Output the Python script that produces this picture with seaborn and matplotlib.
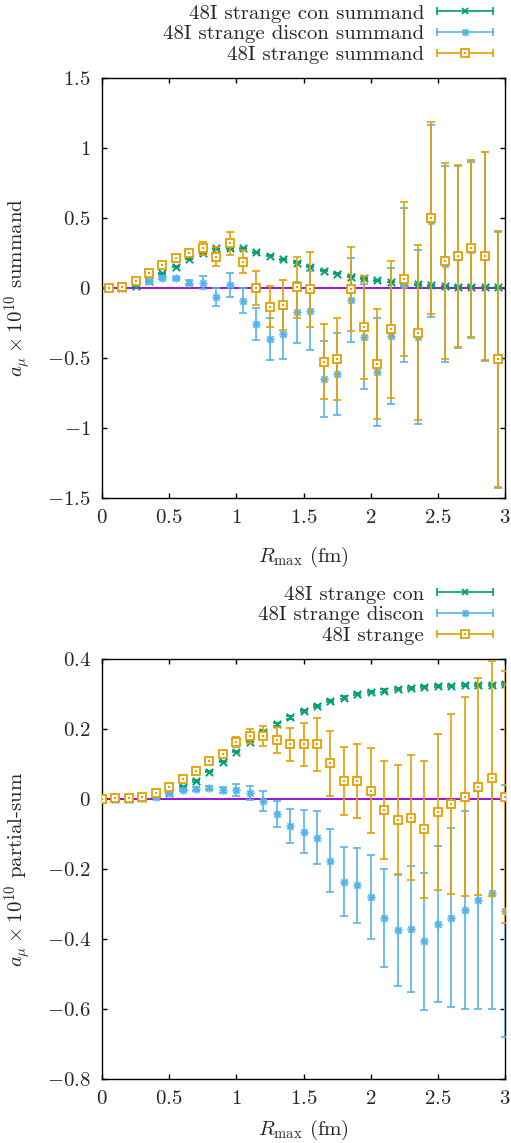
import matplotlib
matplotlib.use("Agg")
import matplotlib.pyplot as plt
import seaborn as sns
import pandas as pd
from matplotlib.path import Path
from matplotlib.lines import Line2D
from matplotlib.legend_handler import HandlerBase
from matplotlib.ticker import FixedLocator, FuncFormatter

# ---------------- data ----------------
r_sum = [0.05, 0.15, 0.25, 0.35, 0.45, 0.55, 0.65, 0.75, 0.85, 0.95,
         1.05, 1.15, 1.25, 1.35, 1.45, 1.55, 1.65, 1.75, 1.85, 1.95,
         2.05, 2.15, 2.25, 2.35, 2.45, 2.55, 2.65, 2.75, 2.85, 2.95]
con_sum = [0.0, 0.002, 0.014, 0.052, 0.105, 0.152, 0.207, 0.248, 0.283, 0.283,
           0.283, 0.255, 0.231, 0.205, 0.181, 0.152, 0.124, 0.102, 0.081, 0.069,
           0.055, 0.043, 0.033, 0.026, 0.019, 0.014, 0.010, 0.010, 0.007, 0.005]
con_sum_err = [0.0, 0.001, 0.001, 0.001, 0.002, 0.002, 0.002, 0.003, 0.003, 0.003,
               0.003, 0.003, 0.003, 0.003, 0.003, 0.003, 0.003, 0.003, 0.003, 0.003,
               0.003, 0.003, 0.003, 0.003, 0.003, 0.003, 0.003, 0.003, 0.003, 0.003]
disc_sum = [0.0, 0.0, 0.040, 0.052, 0.074, 0.069, 0.038, 0.038, -0.062, 0.021,
            -0.091, -0.257, -0.367, -0.329, -0.174, -0.162, -0.652, -0.614, -0.086, -0.348,
            -0.598, -0.343, 0.021, -0.348, 0.479, 0.171, 0.221, 0.273, 0.222, -0.512]
disc_sum_err = [0.002, 0.003, 0.005, 0.008, 0.010, 0.012, 0.020, 0.048, 0.063, 0.086,
                0.089, 0.115, 0.150, 0.180, 0.218, 0.280, 0.270, 0.290, 0.300, 0.375,
                0.386, 0.486, 0.550, 0.620, 0.686, 0.700, 0.650, 0.630, 0.746, 0.915]
tot_sum = [0.0, 0.005, 0.052, 0.110, 0.164, 0.217, 0.252, 0.283, 0.224, 0.319,
           0.188, 0.0, -0.133, -0.121, 0.005, -0.010, -0.526, -0.507, -0.007, -0.281,
           -0.543, -0.295, 0.062, -0.319, 0.502, 0.195, 0.231, 0.283, 0.229, -0.507]
tot_sum_err = [0.002, 0.003, 0.005, 0.008, 0.010, 0.012, 0.018, 0.045, 0.070, 0.083,
               0.083, 0.120, 0.145, 0.180, 0.217, 0.270, 0.270, 0.290, 0.300, 0.370,
               0.390, 0.490, 0.550, 0.625, 0.687, 0.700, 0.650, 0.630, 0.746, 0.915]

r_cum = [0.0, 0.1, 0.2, 0.3, 0.4, 0.5, 0.6, 0.7, 0.8, 0.9, 1.0,
         1.1, 1.2, 1.3, 1.4, 1.5, 1.6, 1.7, 1.8, 1.9, 2.0,
         2.1, 2.2, 2.3, 2.4, 2.5, 2.6, 2.7, 2.8, 2.9, 3.0]
con_cum = [0.0, 0.0, 0.0, 0.003, 0.010, 0.017, 0.035, 0.052, 0.078, 0.107, 0.135,
           0.164, 0.192, 0.213, 0.233, 0.251, 0.267, 0.280, 0.290, 0.299, 0.306,
           0.310, 0.314, 0.317, 0.320, 0.322, 0.324, 0.325, 0.326, 0.326, 0.328]
con_cum_err = [0.0, 0.0, 0.0, 0.001, 0.001, 0.001, 0.001, 0.002, 0.002, 0.002, 0.002,
               0.002, 0.003, 0.003, 0.003, 0.003, 0.003, 0.003, 0.003, 0.003, 0.003,
               0.003, 0.003, 0.003, 0.003, 0.003, 0.003, 0.003, 0.003, 0.003, 0.003]
disc_cum = [0.0, 0.0, 0.0, 0.003, 0.006, 0.016, 0.026, 0.029, 0.032, 0.026, 0.026,
            0.018, -0.006, -0.044, -0.077, -0.093, -0.110, -0.176, -0.236, -0.246, -0.281,
            -0.339, -0.374, -0.371, -0.406, -0.357, -0.339, -0.317, -0.289, -0.268, -0.319]
disc_cum_err = [0.0, 0.0, 0.001, 0.002, 0.002, 0.003, 0.004, 0.005, 0.006, 0.008, 0.017,
                0.020, 0.029, 0.037, 0.048, 0.061, 0.075, 0.090, 0.098, 0.107, 0.120,
                0.140, 0.159, 0.179, 0.196, 0.223, 0.256, 0.284, 0.312, 0.333, 0.360]
tot_cum = [0.0, 0.002, 0.002, 0.007, 0.016, 0.033, 0.056, 0.081, 0.110, 0.130, 0.163,
           0.181, 0.181, 0.169, 0.156, 0.156, 0.156, 0.102, 0.052, 0.052, 0.024,
           -0.030, -0.060, -0.053, -0.086, -0.036, -0.015, 0.007, 0.035, 0.059, 0.007]
tot_cum_err = [0.0, 0.0, 0.001, 0.002, 0.002, 0.003, 0.004, 0.005, 0.006, 0.008, 0.015,
               0.020, 0.029, 0.037, 0.048, 0.062, 0.076, 0.092, 0.098, 0.106, 0.121,
               0.140, 0.158, 0.178, 0.196, 0.223, 0.257, 0.285, 0.310, 0.335, 0.360]

x_ticks = [0, 0.5, 1, 1.5, 2, 2.5, 3]
y_ticks_top = [-1.5, -1, -0.5, 0, 0.5, 1, 1.5]
y_ticks_bot = [-0.8, -0.6, -0.4, -0.2, 0, 0.2, 0.4]

labels_top = ["48I strange con summand", "48I strange discon summand", "48I strange summand"]
labels_bot = ["48I strange con", "48I strange discon", "48I strange"]

FS = 15.0

# ---------------- style ----------------
sns.set_theme(style="ticks")
plt.rcParams.update({
    "font.family": "serif",
    "font.serif": ["cmr10"],
    "mathtext.fontset": "cm",
    "axes.formatter.use_mathtext": True,
    "font.size": FS,
    "axes.linewidth": 1.0,
    "axes.edgecolor": "black",
})

C_CON = "#009e73"
C_DIS = "#56b4e9"
C_TOT = "#e69f00"
C_ZERO = "#9400d3"

star = Path([(0, -1), (0, 1), (-1, 0), (1, 0), (-0.75, -0.75), (0.75, 0.75), (-0.75, 0.75), (0.75, -0.75)],
            [Path.MOVETO, Path.LINETO] * 4)

fig = plt.figure(figsize=(5.11, 11.43), dpi=100)
ax1 = fig.add_axes([102 / 511, (1143 - 498) / 1143, 403 / 511, 420 / 1143])
ax2 = fig.add_axes([102 / 511, (1143 - 1079) / 1143, 403 / 511, 420 / 1143])

EB = dict(fmt="none", elinewidth=1.2, capsize=2.6, capthick=1.2)


def draw(ax, r, con, con_e, dis, dis_e, tot, tot_e):
    ax.axhline(0, color=C_ZERO, lw=1.3, zorder=1)
    ax.errorbar(r, con, yerr=con_e, ecolor=C_CON, zorder=2, **EB)
    sns.scatterplot(x=r, y=con, ax=ax, marker="x", color=C_CON, s=28, linewidth=1.4, zorder=3)
    ax.errorbar(r, dis, yerr=dis_e, ecolor=C_DIS, zorder=4, **EB)
    ax.plot(r, dis, ls="none", marker=star, ms=6.0, mew=1.3, mfc="none", mec=C_DIS, zorder=5)
    ax.errorbar(r, tot, yerr=tot_e, ecolor=C_TOT, zorder=6, **EB)
    ax.plot(r, tot, ls="none", marker="s", ms=5.8, mew=1.3, mfc="white", mec=C_TOT, zorder=7)
    sns.scatterplot(x=r, y=tot, ax=ax, marker="s", color=C_TOT, s=2.2, linewidth=0, zorder=8)


draw(ax1, r_sum, con_sum, con_sum_err, disc_sum, disc_sum_err, tot_sum, tot_sum_err)
draw(ax2, r_cum, con_cum, con_cum_err, disc_cum, disc_cum_err, tot_cum, tot_cum_err)

fmt = FuncFormatter(lambda v, p: f"${v:g}$")
for ax, yt, ylim in ((ax1, y_ticks_top, (-1.5, 1.5)), (ax2, y_ticks_bot, (-0.8, 0.4))):
    ax.set_xlim(0, 3)
    ax.set_ylim(*ylim)
    ax.xaxis.set_major_locator(FixedLocator(x_ticks))
    ax.yaxis.set_major_locator(FixedLocator(yt))
    ax.xaxis.set_major_formatter(fmt)
    ax.yaxis.set_major_formatter(fmt)
    ax.tick_params(direction="in", length=3.8, width=1.0, top=True, right=True, labelsize=FS, color="black")
    ax.tick_params(axis="y", pad=8)
    ax.tick_params(axis="x", pad=8)
    for s in ax.spines.values():
        s.set_visible(True)
        s.set_linewidth(1.0)
    ax.set_xlabel(r"$R_{\mathrm{max}}$ (fm)", fontsize=FS)
    ax.grid(False)

ax1.set_ylabel(r"$a_\mu \times 10^{10}$ summand", fontsize=FS)
ax2.set_ylabel(r"$a_\mu \times 10^{10}$ partial-sum", fontsize=FS)
ax1.yaxis.set_label_coords(-0.17, 0.5)
ax2.yaxis.set_label_coords(-0.17, 0.5)
ax1.xaxis.set_label_coords(0.5, -0.112)
ax2.xaxis.set_label_coords(0.5, -0.093)


class GnuKey(HandlerBase):
    def __init__(self, color, kind):
        super().__init__()
        self.color = color
        self.kind = kind

    def create_artists(self, legend, orig_handle, xdescent, ydescent, width, height, fontsize, trans):
        y = height / 2 - ydescent
        x0, x1 = -xdescent, width - xdescent
        xm = (x0 + x1) / 2
        arts = [Line2D([x0, x1], [y, y], color=self.color, lw=1.2),
                Line2D([x0, x1], [y, y], ls="none", marker="|", ms=5.5, mew=1.2, color=self.color)]
        if self.kind == "x":
            arts.append(Line2D([xm], [y], ls="none", marker="x", ms=5, mew=1.3, color=self.color))
        elif self.kind == "star":
            arts.append(Line2D([xm], [y], ls="none", marker=star, ms=5.5, mew=1.3, mfc="none", mec=self.color))
        else:
            arts.append(Line2D([xm], [y], ls="none", marker="s", ms=5.8, mew=1.3, mfc="white", mec=self.color))
            arts.append(Line2D([xm], [y], ls="none", marker="s", ms=1.5, mew=0, mfc=self.color))
        for a in arts:
            a.set_transform(trans)
        return arts


for ax, labels, ycen in ((ax1, labels_top, 1 - 34 / 1143), (ax2, labels_bot, 1 - 615 / 1143)):
    hs = [Line2D([], []), Line2D([], []), Line2D([], [])]
    hmap = {hs[0]: GnuKey(C_CON, "x"), hs[1]: GnuKey(C_DIS, "star"), hs[2]: GnuKey(C_TOT, "sq")}
    ax.legend(hs, labels, handler_map=hmap, loc="center right", bbox_to_anchor=(493 / 511, ycen),
              bbox_transform=fig.transFigure, frameon=False, markerfirst=False,
              handlelength=56 / (FS * 100 / 72), handletextpad=13 / (FS * 100 / 72), labelspacing=0.1,
              borderpad=0, borderaxespad=0, fontsize=FS)

fig.savefig("out.png", dpi=100)
